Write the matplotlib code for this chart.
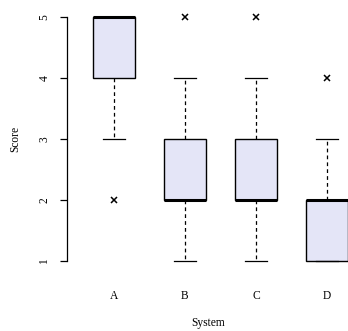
import matplotlib
matplotlib.use('Agg')
import matplotlib.pyplot as plt

# values
systems = ['A', 'B', 'C', 'D']
medians = [5, 2, 2, 2]
q1 = [4, 2, 2, 1]
q3 = [5, 3, 3, 2]
whisk_lo = [3, 1, 1, 1]
whisk_hi = [5, 4, 4, 3]
outliers = [[2], [5], [5], [4]]

plt.rcParams['font.family'] = ['Liberation Serif', 'DejaVu Serif']
plt.rcParams['font.size'] = 8.3

fig = plt.figure(figsize=(3.48, 3.31), dpi=100)
# R style plot region, the right side runs past the figure edge
ax = fig.add_axes([67 / 348, 1 - 271 / 331, 307 / 348, 264 / 331])

stats = []
for i in range(len(systems)):
    stats.append({'label': systems[i], 'med': medians[i], 'q1': q1[i], 'q3': q3[i],
                  'whislo': whisk_lo[i], 'whishi': whisk_hi[i], 'fliers': outliers[i]})

ax.bxp(stats, positions=range(1, len(systems) + 1), widths=0.6, patch_artist=True,
       boxprops=dict(facecolor='#E4E5F7', edgecolor='black', linewidth=1),
       medianprops=dict(color='black', linewidth=2.2, solid_capstyle='butt'),
       whiskerprops=dict(color='black', linewidth=0.9, linestyle=(0, (3, 2.5))),
       capprops=dict(color='black', linewidth=0.9),
       flierprops=dict(marker='x', markersize=4.5, markeredgecolor='black', markeredgewidth=1.1),
       capwidths=0.3)

ax.set_xlim(0.34, 4.66)
ax.set_ylim(0.84, 5.16)

for s in ['top', 'right', 'bottom']:
    ax.spines[s].set_visible(False)
ax.spines['left'].set_bounds(1, 5)
ax.spines['left'].set_linewidth(0.9)

ax.set_yticks([1, 2, 3, 4, 5])
ax.set_yticklabels(['1', '2', '3', '4', '5'], rotation=90, va='center')
ax.tick_params(axis='y', length=5, width=0.9, pad=7)
ax.tick_params(axis='x', length=0, pad=14)

ax.set_xlabel('System')
ax.set_ylabel('Score')
ax.xaxis.set_label_coords((208 - 67) / 307, (271 - 323) / 264)
ax.xaxis.label.set_va('center')
ax.yaxis.set_label_coords((15 - 67) / 307, (271 - 139) / 264)
ax.yaxis.label.set_va('center')

fig.savefig('out.png', dpi=100)
